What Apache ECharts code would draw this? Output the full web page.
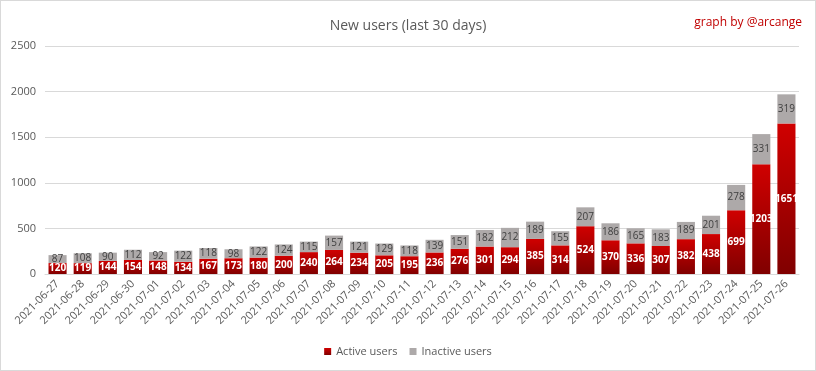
<!DOCTYPE html>
<html><head><meta charset="utf-8">
<script src="https://cdn.jsdelivr.net/npm/echarts@6/dist/echarts.min.js"></script>
<style>html,body{margin:0;padding:0;background:#fff}#c{width:816px;height:371px;box-sizing:border-box;border:1px solid #D9D9D9}</style>
</head><body><div id="c"></div>
<script>
const categories = ['2021-06-27','2021-06-28','2021-06-29','2021-06-30','2021-07-01','2021-07-02','2021-07-03','2021-07-04','2021-07-05','2021-07-06','2021-07-07','2021-07-08','2021-07-09','2021-07-10','2021-07-11','2021-07-12','2021-07-13','2021-07-14','2021-07-15','2021-07-16','2021-07-17','2021-07-18','2021-07-19','2021-07-20','2021-07-21','2021-07-22','2021-07-23','2021-07-24','2021-07-25','2021-07-26'];
const activeUsers = [120,119,144,154,148,134,167,173,180,200,240,264,234,205,195,236,276,301,294,385,314,524,370,336,307,382,438,699,1203,1651];
const inactiveUsers = [87,108,90,112,92,122,118,98,122,124,115,157,121,129,118,139,151,182,212,189,155,207,186,165,183,189,201,278,331,319];
const yTicks = [0,500,1000,1500,2000,2500];

const FONT = "'Open Sans','Liberation Sans','DejaVu Sans',sans-serif";
const chart = echarts.init(document.getElementById('c'));
chart.setOption({
  animation: false,
  textStyle: {fontFamily: FONT},
  title: [
    {text: 'New users (last 30 days)', left: 'center', top: 13,
     textStyle: {fontFamily: FONT, fontSize: 14, fontWeight: 'normal', color: '#595959'}},
    {text: 'graph by @arcange', right: 8, top: 11,
     textStyle: {fontFamily: FONT, fontSize: 12, fontWeight: 'normal', color: '#C00000'}}
  ],
  legend: {
    bottom: 8, left: 'center', itemWidth: 7, itemHeight: 7, itemGap: 12,
    icon: 'rect',
    textStyle: {fontFamily: FONT, fontSize: 11, color: '#595959'},
    data: ['Active users', 'Inactive users']
  },
  grid: {left: 44, right: 16, top: 45, bottom: 96, containLabel: false},
  xAxis: {
    type: 'category', data: categories,
    axisLine: {lineStyle: {color: '#D9D9D9'}},
    axisTick: {show: false},
    axisLabel: {rotate: 45, color: '#595959', fontSize: 11, fontFamily: FONT, interval: 0, margin: 8}
  },
  yAxis: {
    type: 'value', min: yTicks[0], max: yTicks[yTicks.length-1], interval: 500,
    axisLine: {show: false}, axisTick: {show: false},
    splitLine: {lineStyle: {color: '#D9D9D9'}},
    axisLabel: {color: '#595959', fontSize: 11, fontFamily: FONT, margin: 9, formatter: v => String(v)}
  },
  series: [
    {
      name: 'Active users', type: 'bar', stack: 'u', data: activeUsers,
      barCategoryGap: '28%',
      itemStyle: {color: new echarts.graphic.LinearGradient(0,0,0,1,[{offset:0,color:'#D00000'},{offset:1,color:'#800000'}])},
      label: {show: true, position: 'inside', color: '#fff', fontWeight: 'bold', fontSize: 10, fontFamily: FONT}
    },
    {
      name: 'Inactive users', type: 'bar', stack: 'u', data: inactiveUsers,
      itemStyle: {color: '#ADA9A9'},
      label: {show: true, position: 'inside', color: '#404040', fontSize: 10, fontFamily: FONT}
    }
  ],
  color: ['#C00000', '#ADA9A9']
});
</script></body></html>
